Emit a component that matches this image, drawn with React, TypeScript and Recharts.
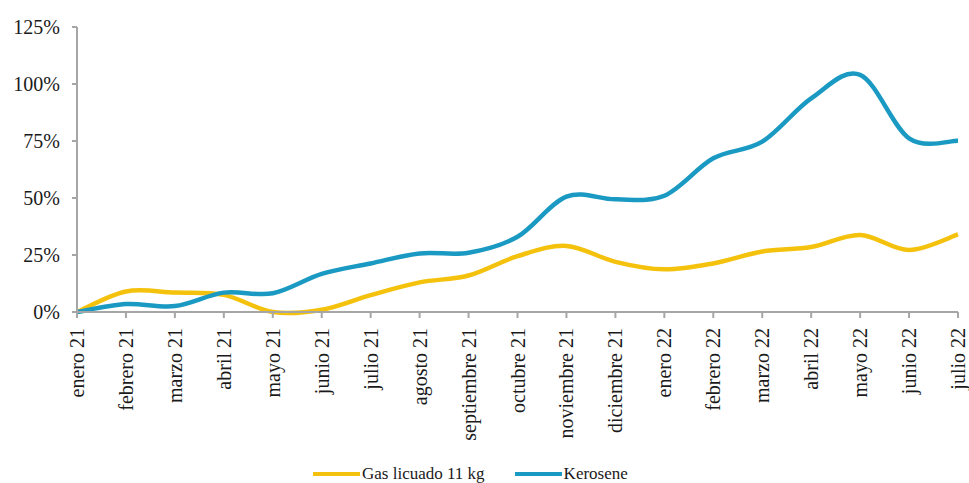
import { LineChart, Line, XAxis, YAxis, Legend } from "recharts";

const months = [
  "enero 21", "febrero 21", "marzo 21", "abril 21", "mayo 21", "junio 21", "julio 21",
  "agosto 21", "septiembre 21", "octubre 21", "noviembre 21", "diciembre 21",
  "enero 22", "febrero 22", "marzo 22", "abril 22", "mayo 22", "junio 22", "julio 22",
];
const gasLicuado = [0, 9, 8.5, 7.5, 0, 1, 7.4, 13, 16, 24.5, 29, 22, 18.7, 21.3, 26.5, 28.5, 33.8, 27.2, 34];
const kerosene = [0, 3.5, 2.6, 8.5, 8.2, 16.7, 21.3, 25.7, 26, 33, 50.6, 49.4, 51, 67.4, 74.7, 93.7, 104, 76.2, 75.1];
const yTicks = [0, 25, 50, 75, 100, 125];

const GAS = "#F4C20D";
const KERO = "#1A9AC2";
const AXIS = "#A6A6A6";
const FONT = "'Liberation Serif', 'Times New Roman', serif";

const data = months.map((m, i) => ({ month: m, gas: gasLicuado[i], kero: kerosene[i] }));

// excel-style smoothed line (catmull-rom as bezier)
function excelSmooth(context: any) {
  let pts: number[][] = [];
  return {
    areaStart() {},
    areaEnd() {},
    lineStart() {
      pts = [];
    },
    point(x: number, y: number) {
      pts.push([+x, +y]);
    },
    lineEnd() {
      if (!pts.length) return;
      context.moveTo(pts[0][0], pts[0][1]);
      for (let i = 0; i < pts.length - 1; i++) {
        const p0 = pts[i - 1] || pts[i];
        const p1 = pts[i];
        const p2 = pts[i + 1];
        const p3 = pts[i + 2] || p2;
        context.bezierCurveTo(
          p1[0] + (p2[0] - p0[0]) / 6,
          p1[1] + (p2[1] - p0[1]) / 6,
          p2[0] - (p3[0] - p1[0]) / 6,
          p2[1] - (p3[1] - p1[1]) / 6,
          p2[0],
          p2[1]
        );
      }
    },
  };
}

function MonthTick({ x, y, payload }: any) {
  return (
    <g transform={`translate(${x},${y})`}>
      <text
        transform="rotate(-90)"
        x={-8}
        y={0}
        dy="0.35em"
        textAnchor="end"
        fontFamily={FONT}
        fontSize={20}
        fill="#1a1a1a"
      >
        {payload.value}
      </text>
    </g>
  );
}

function LegendBox() {
  const items = [
    { label: "Gas licuado 11 kg", color: GAS },
    { label: "Kerosene", color: KERO },
  ];
  return (
    <div style={{ display: "flex", alignItems: "center", fontFamily: FONT, fontSize: 17, color: "#1a1a1a" }}>
      {items.map((it) => (
        <div key={it.label} style={{ display: "flex", alignItems: "center", marginRight: 30 }}>
          <span style={{ display: "inline-block", width: 47, height: 4, background: it.color, marginRight: 2 }} />
          <span>{it.label}</span>
        </div>
      ))}
    </div>
  );
}

export default function App() {
  return (
    <div style={{ width: 969, height: 483, background: "#fff" }}>
      <style>{`body{margin:0;}`}</style>
      <LineChart width={969} height={483} data={data} margin={{ top: 27, right: 11, left: 0, bottom: 0 }}>
        <XAxis
          dataKey="month"
          interval={0}
          height={171}
          tick={<MonthTick />}
          tickSize={6}
          axisLine={{ stroke: AXIS, strokeWidth: 2 }}
          tickLine={{ stroke: AXIS, strokeWidth: 2 }}
        />
        <YAxis
          width={77}
          domain={[0, 125]}
          ticks={yTicks}
          tickFormatter={(v) => `${v}%`}
          tickSize={5}
          tickMargin={12}
          tick={{ fontFamily: FONT, fontSize: 20, fill: "#1a1a1a" }}
          axisLine={{ stroke: AXIS, strokeWidth: 2 }}
          tickLine={{ stroke: AXIS, strokeWidth: 2 }}
        />
        <Legend
          layout="horizontal"
          verticalAlign="middle"
          align="center"
          content={<LegendBox />}
          wrapperStyle={{ top: 464, left: 313, width: 420 }}
        />
        <Line
          dataKey="gas"
          name="Gas licuado 11 kg"
          type={excelSmooth as any}
          stroke={GAS}
          strokeWidth={4.5}
          dot={false}
          isAnimationActive={false}
        />
        <Line
          dataKey="kero"
          name="Kerosene"
          type={excelSmooth as any}
          stroke={KERO}
          strokeWidth={4.5}
          dot={false}
          isAnimationActive={false}
        />
      </LineChart>
    </div>
  );
}
